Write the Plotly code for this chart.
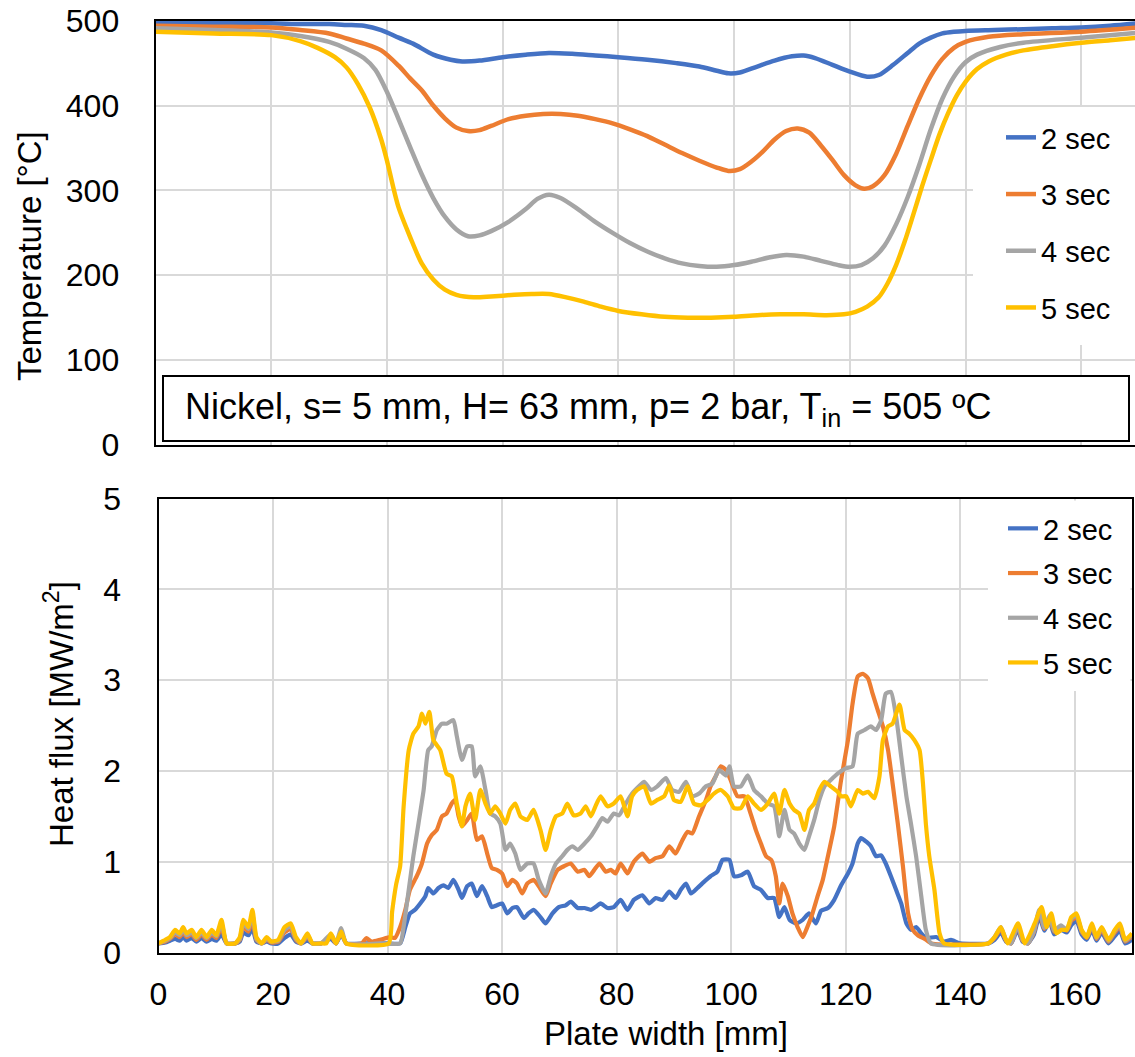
import plotly.graph_objects as go

W, H = 1135, 1057


def px(x):
    return x / W


def py(y):
    return 1 - y / H


series_names = ["2 sec", "3 sec", "4 sec", "5 sec"]
colors = ["#4472C4", "#ED7D31", "#A5A5A5", "#FFC000"]

# ---------------- Temperature [°C] vs plate width [mm] ----------------
temp_x_2s = [0, 10, 20, 25, 30, 33, 36, 39, 42, 44.5, 48, 51, 53, 56, 60, 64, 68, 72, 76, 80, 85, 90,
             94, 97, 99, 101, 104, 107, 110, 112, 114, 117, 120, 123, 125, 127.5, 130, 132, 134, 136,
             138, 140, 145, 150, 155, 160, 165, 170]
temp_y_2s = [497, 497, 497, 496, 496, 495, 494, 489, 480, 473, 460, 454, 452, 453, 457, 460, 462, 461,
             459, 457, 454, 450, 446, 441, 438, 439, 446, 453, 458, 459, 456, 448, 440, 434, 436, 448,
             462, 473, 480, 485, 487, 488, 489, 490, 491, 492, 494, 497]

temp_x_3s = [0, 10, 20, 25, 30, 33, 36, 39, 42, 44, 46, 48, 50, 52, 54, 56, 58, 61, 64, 67, 70, 73,
             76, 79, 82, 85, 88, 91, 94, 97, 99, 101, 103, 105, 107, 109, 111, 113, 115, 117, 119,
             121, 122.5, 124, 126, 128, 130, 132, 134, 136, 138, 140, 144, 150, 160, 170]
temp_y_3s = [494, 493, 492, 489, 485, 479, 473, 465, 447, 432, 418, 400, 385, 374, 370, 371, 376, 384,
             388, 390, 390, 388, 384, 379, 372, 364, 354, 344, 335, 327, 323, 325, 334, 346, 360, 370,
             373, 368, 353, 336, 318, 306, 302, 305, 318, 343, 376, 408, 435, 455, 468, 475, 481, 484,
             487, 492]

temp_x_4s = [0, 10, 20, 25, 30, 33, 36, 38, 40, 42, 44, 46, 48, 50, 52, 54, 56, 58, 61, 64, 66, 68,
             70, 73, 76, 79, 82, 85, 88, 91, 94, 97, 100, 103, 106, 109, 112, 115, 118, 120, 122, 124,
             126, 128, 130, 132, 134, 136, 138, 140, 142, 146, 150, 160, 170]
temp_y_4s = [491, 489, 486, 482, 475, 467, 456, 442, 416, 384, 351, 319, 291, 269, 254, 246, 247, 252,
             263, 278, 290, 295, 291, 278, 263, 250, 238, 228, 220, 214, 211, 210, 212, 216, 221, 224,
             222, 217, 212, 210, 212, 220, 235, 260, 292, 330, 372, 408, 434, 451, 460, 469, 474, 480,
             486]

temp_x_5s = [0, 10, 20, 25, 28, 31, 33, 35, 37, 39, 40, 41, 42, 44, 46, 48, 50, 52, 55, 58, 62, 65,
             68, 71, 74, 77, 80, 84, 88, 92, 96, 100, 104, 108, 112, 116, 119, 121, 123, 125, 126.5,
             128, 129.5, 131, 132.5, 134, 135.5, 137, 138.5, 140, 142, 144, 147, 150, 155, 160, 165,
             170]
temp_y_5s = [487, 485, 483, 476, 468, 457, 445, 425, 398, 360, 335, 306, 280, 245, 214, 195, 183, 177,
             174, 175, 177, 178, 178, 174, 169, 163, 158, 154, 151, 150, 150, 151, 153, 154, 154, 153,
             154, 157, 163, 174, 190, 212, 240, 272, 305, 336, 366, 391, 412, 428, 443, 452, 460, 465,
             470, 474, 477, 480]

# ---------------- Heat flux [MW/m2] vs plate width [mm] ----------------
flux_x_2s = [0, 1.2, 2, 2.9, 3.7, 4.3, 4.9, 5.8, 6.6, 7.5, 8.4, 9.3, 10.1, 11, 11.9, 13.4, 14.2, 14.8,
             15.7, 16.4, 17.1, 18, 18.9, 19.7, 20.9, 22, 23.1, 24, 24.9, 26, 26.9, 28.4, 30.1, 31, 31.9,
             32.8, 36, 40, 42.2,
             43.1, 43.9, 44.8, 45.7, 46.6, 47.1, 48, 48.9, 49.8, 50.6, 51.5, 52.4, 53, 53.9, 54.7, 55.6,
             56.5, 57.4, 58.2, 59.1, 60, 60.9, 61.8, 62.6, 63.8, 64.6, 65.5, 66.7, 67.6, 68.8, 69.9,
             71.1, 72, 73.2, 74.4, 75.5, 76.3, 77.2, 78.4, 79.5, 80.7, 81.9, 83, 84.5, 85.7, 86.8, 88,
             89.2, 90.3, 91.2, 92.1, 93, 94.1, 95.3, 96.4, 97.6, 98.5, 99.7, 100.5, 101.7, 102.9, 104,
             105.2, 106.4, 107.5, 108.4, 109.3, 110.2, 111.3, 112.5, 113.6, 114.8, 115.7, 116.9, 118,
             119.2, 120.4, 121.2, 122.1, 122.7, 123.6, 124.4, 125.3, 126.2, 127, 127.9, 128.8, 129.7,
             130.6, 131.4, 132.3, 133.2, 134, 135.8, 137.2, 138.4, 140, 144.9,
             146, 147.1, 148, 148.9, 150, 150.9, 151.8, 152.9, 153.8, 154.7, 155.6, 156.4, 157.6, 158.6,
             159.4, 160.3, 161.2, 162.1, 163, 163.8, 164.7, 165.9, 167, 167.9, 168.8, 170]
flux_y_2s = [0.10, 0.11, 0.13, 0.15, 0.13, 0.17, 0.13, 0.16, 0.12, 0.16, 0.12, 0.15, 0.13, 0.20, 0.10,
             0.10, 0.12, 0.22, 0.19, 0.27, 0.12, 0.10, 0.12, 0.10, 0.10, 0.16, 0.20, 0.12, 0.10, 0.13,
             0.10, 0.10, 0.15, 0.10, 0.20, 0.10, 0.10, 0.10, 0.10,
             0.28, 0.43, 0.47, 0.54, 0.62, 0.71, 0.65, 0.71, 0.74, 0.71, 0.80, 0.69, 0.60, 0.73, 0.76,
             0.62, 0.73, 0.62, 0.50, 0.52, 0.54, 0.43, 0.49, 0.50, 0.38, 0.43, 0.47, 0.39, 0.32, 0.43,
             0.50, 0.52, 0.56, 0.49, 0.49, 0.47, 0.50, 0.54, 0.49, 0.50, 0.58, 0.47, 0.58, 0.63, 0.54,
             0.60, 0.58, 0.67, 0.60, 0.69, 0.76, 0.65, 0.71, 0.78, 0.84, 0.89, 1.02, 1.02, 0.84, 0.85,
             0.89, 0.73, 0.69, 0.60, 0.60, 0.39, 0.50, 0.36, 0.32, 0.36, 0.43, 0.32, 0.46, 0.49, 0.58,
             0.74, 0.87, 0.98, 1.20, 1.26, 1.22, 1.17, 1.06, 1.07, 0.98, 0.84, 0.69, 0.54, 0.32, 0.25,
             0.28, 0.21, 0.16, 0.17, 0.12, 0.14, 0.10, 0.10,
             0.14, 0.22, 0.12, 0.10, 0.25, 0.12, 0.10, 0.20, 0.40, 0.24, 0.35, 0.20, 0.25, 0.22, 0.30,
             0.35, 0.20, 0.14, 0.25, 0.13, 0.22, 0.10, 0.18, 0.24, 0.10, 0.14]

flux_x_3s = [0, 1.2, 2, 2.9, 3.7, 4.3, 4.9, 5.8, 6.6, 7.5, 8.4, 9.3, 10.1, 11, 11.9, 13.4, 14.2, 14.8,
             15.7, 16.4, 17.1, 18, 18.9, 19.7, 20.9, 22, 23.1, 24, 24.9, 26, 26.9, 28.4, 30.1, 31, 31.9,
             32.8, 35.5, 36.3, 37.2, 38.7, 40.4, 41.3, 42.2,
             43.1, 43.9, 45.1, 46, 46.9, 47.7, 48.6, 49.5, 50.3, 51.2, 51.8, 52.4, 53, 53.9, 54.7, 55.6,
             56.5, 57.4, 58.2, 59.1, 60, 60.9, 61.8, 62.6, 63.5, 64.4, 65.5, 66.4, 67.6, 68.5, 69.7,
             70.8, 72, 73.2, 74.4, 75.2, 76.1, 77, 78.1, 79, 79.8, 80.7, 81.9, 83, 84.5, 85.7, 86.8, 88,
             89.2, 90.3, 91.5, 92.4, 93.2, 94.4, 95.6, 96.4, 97.3, 98.2, 99.1, 99.9, 101.1, 102.3,
             103.4, 104.3, 105.2, 106.1, 107, 107.8, 108.4, 109, 109.9, 110.7, 111.6, 112.5, 113.3,
             114.2, 115.1, 116, 116.9, 118, 119.2, 120.4, 121.2, 122.1, 123, 123.9, 124.7, 125.6, 126.5,
             127.4, 128.2, 129.1, 130, 130.9, 131.7, 132.6, 133.8, 135, 144.9,
             146, 147.1, 148, 148.9, 150, 150.9, 151.8, 152.9, 153.8, 154.7, 155.6, 156.4, 157.6, 158.6,
             159.4, 160.3, 161.2, 162.1, 163, 163.8, 164.7, 165.9, 167, 167.9, 168.8, 170]
flux_y_3s = [0.10, 0.12, 0.15, 0.20, 0.17, 0.22, 0.17, 0.20, 0.14, 0.20, 0.14, 0.20, 0.16, 0.28, 0.10,
             0.10, 0.14, 0.28, 0.23, 0.36, 0.14, 0.10, 0.14, 0.11, 0.12, 0.22, 0.26, 0.14, 0.10, 0.17,
             0.10, 0.10, 0.18, 0.10, 0.22, 0.10, 0.10, 0.16, 0.12, 0.14, 0.17, 0.16, 0.28,
             0.47, 0.69, 0.84, 0.98, 1.20, 1.29, 1.35, 1.50, 1.53, 1.64, 1.68, 1.50, 1.39, 1.46, 1.53,
             1.24, 1.28, 1.09, 0.93, 0.91, 0.87, 0.73, 0.80, 0.76, 0.65, 0.76, 0.80, 0.73, 0.62, 0.76,
             0.91, 0.95, 0.98, 0.89, 0.91, 0.84, 0.91, 0.98, 0.89, 0.91, 0.87, 0.98, 0.87, 1.00, 1.09,
             1.00, 1.04, 1.06, 1.17, 1.09, 1.24, 1.33, 1.31, 1.50, 1.68, 1.83, 1.94, 2.05, 2.01, 1.90,
             1.72, 1.72, 1.53, 1.35, 1.20, 1.06, 1.02, 0.84, 0.54, 0.76, 0.62, 0.43, 0.28, 0.17, 0.28,
             0.43, 0.62, 0.80, 1.06, 1.39, 1.90, 2.34, 2.74, 3.04, 3.07, 3.02, 2.85, 2.67, 2.49, 2.23,
             1.86, 1.42, 0.95, 0.43, 0.25, 0.19, 0.15, 0.10, 0.10,
             0.16, 0.26, 0.13, 0.10, 0.29, 0.13, 0.10, 0.23, 0.45, 0.26, 0.39, 0.23, 0.29, 0.24, 0.35,
             0.39, 0.23, 0.16, 0.29, 0.15, 0.25, 0.12, 0.22, 0.28, 0.12, 0.18]

flux_x_4s = [0, 1.2, 2, 2.9, 3.7, 4.3, 4.9, 5.8, 6.6, 7.5, 8.4, 9.3, 10.1, 11, 11.9, 13.4, 14.2, 14.8,
             15.7, 16.4, 17.1, 18, 18.9, 19.7, 20.9, 22, 23.1, 24, 24.9, 26, 26.9, 28.4, 30.1, 31, 31.9,
             32.8, 38.7, 42.2, 42.8,
             43.7, 44.5, 45.4, 46.3, 47.1, 47.7, 48.6, 49.5, 50.3, 51.5, 52.1, 53, 53.9, 54.7, 55.3,
             56.2, 57.1, 57.9, 58.8, 59.7, 60.6, 61.4, 62.3, 63.2, 64.4, 65.5, 66.4, 67.6, 68.5, 69.4,
             70.5, 71.4, 72.3, 73.2, 74.4, 75.5, 76.6, 77.5, 78.4, 79.5, 80.4, 81.6, 82.7, 83.9, 84.8,
             86, 87.1, 88.6, 89.7, 90.9, 92.1, 93.2, 94.4, 95.6, 96.7, 97.9, 99.1, 99.7, 100.5, 101.7,
             102.9, 104, 105.2, 106.4, 107.5, 108.4, 109.3, 110.2, 111, 111.9, 112.8, 113.6, 114.5,
             115.4, 116.3, 117.4, 118.6, 120.1, 121.2, 122.1, 123.3, 124.4, 125.3, 126.2, 127, 127.9,
             128.8, 129.7, 130.6, 131.4, 132.3, 133.2, 134, 134.9, 144.9,
             146, 147.1, 148, 148.9, 150, 150.9, 151.8, 152.9, 153.8, 154.7, 155.6, 156.4, 157.6, 158.6,
             159.4, 160.3, 161.2, 162.1, 163, 163.8, 164.7, 165.9, 167, 167.9, 168.8, 170]
flux_y_4s = [0.10, 0.13, 0.16, 0.22, 0.19, 0.25, 0.19, 0.22, 0.16, 0.22, 0.16, 0.22, 0.18, 0.32, 0.10,
             0.10, 0.15, 0.32, 0.26, 0.42, 0.15, 0.10, 0.15, 0.12, 0.13, 0.25, 0.29, 0.15, 0.10, 0.19,
             0.10, 0.10, 0.20, 0.10, 0.27, 0.10, 0.10, 0.10, 0.28,
             0.69, 1.06, 1.42, 1.79, 2.23, 2.27, 2.45, 2.52, 2.52, 2.56, 2.38, 2.12, 2.27, 2.27, 1.94,
             2.05, 1.79, 1.53, 1.50, 1.42, 1.13, 1.20, 1.09, 0.91, 0.98, 0.98, 0.80, 0.65, 0.84, 0.98,
             1.06, 1.13, 1.17, 1.13, 1.20, 1.28, 1.39, 1.48, 1.44, 1.53, 1.51, 1.64, 1.75, 1.83, 1.88,
             1.79, 1.83, 1.92, 1.79, 1.77, 1.88, 1.72, 1.75, 1.83, 1.86, 2.01, 1.95, 2.05, 1.83, 1.83,
             1.95, 1.79, 1.72, 1.64, 1.61, 1.28, 1.57, 1.35, 1.31, 1.20, 1.13, 1.28, 1.46, 1.68, 1.83,
             1.90, 1.97, 2.03, 2.05, 2.41, 2.45, 2.49, 2.45, 2.56, 2.85, 2.87, 2.60, 2.16, 1.72, 1.42,
             1.06, 0.62, 0.25, 0.10, 0.10,
             0.17, 0.28, 0.14, 0.10, 0.30, 0.14, 0.10, 0.24, 0.47, 0.27, 0.41, 0.24, 0.30, 0.25, 0.37,
             0.41, 0.24, 0.17, 0.30, 0.16, 0.27, 0.13, 0.24, 0.30, 0.13, 0.20]

flux_x_5s = [0, 1.2, 2, 2.9, 3.7, 4.3, 4.9, 5.8, 6.6, 7.5, 8.4, 9.3, 10.1, 11, 11.9, 13.4, 14.2, 14.8,
             15.7, 16.4, 17.1, 18, 18.9, 19.7, 20.9, 22, 23.1, 24, 24.9, 26, 26.9, 28.4, 29.3, 30.1,
             31, 31.9, 32.8, 40.2,
             40.8, 41.5, 42.2, 42.8, 43.7, 44.5, 45.4, 46, 46.6, 47.3, 48, 49.2, 50.3, 51.2, 52.1, 53,
             53.6, 54.4, 55.3, 56.2, 57.1, 57.9, 58.8, 59.7, 60.6, 61.4, 62.3, 63.2, 64.4, 65.5, 66.7,
             67.6, 68.5, 69.4, 70.5, 71.4, 72.5, 73.7, 74.6, 75.5, 76.3, 77.2, 78.4, 79.5, 80.7, 81.9,
             82.7, 83.6, 84.8, 86, 87.1, 88.3, 89.2, 90, 91.2, 92.4, 93.5, 94.7, 95.9, 97, 98.2, 99.4,
             100.5, 101.7, 102.9, 104, 105.2, 106.4, 107.5, 108.4, 109.3, 110.2, 111, 111.9, 112.8,
             113.6, 114.5, 115.4, 116.3, 117.4, 118.6, 119.2, 120.1, 120.9, 122.1, 123, 123.9, 125,
             125.9, 126.5, 127.4, 128.2, 129.4, 130.3, 131.1, 132, 132.9, 133.5, 134, 134.6, 135.5,
             136.4, 137.2, 144.9,
             146, 147.1, 148.3, 150.1, 151.3, 153, 154.2, 155.1, 155.9, 156.8, 157.7, 158.6, 159.4,
             160.3, 161.2, 162.1, 163, 163.8, 164.7, 165.9, 167, 167.9, 168.8, 170]
flux_y_5s = [0.10, 0.14, 0.17, 0.25, 0.21, 0.28, 0.21, 0.25, 0.17, 0.25, 0.17, 0.25, 0.19, 0.36, 0.10,
             0.10, 0.17, 0.36, 0.28, 0.47, 0.17, 0.10, 0.17, 0.12, 0.14, 0.28, 0.32, 0.17, 0.10, 0.21,
             0.10, 0.10, 0.10, 0.21, 0.10, 0.23, 0.10, 0.10,
             0.45, 0.75, 0.95, 1.60, 2.23, 2.41, 2.49, 2.63, 2.52, 2.65, 2.34, 2.23, 1.97, 1.94, 1.64,
             1.39, 1.61, 1.75, 1.46, 1.79, 1.64, 1.53, 1.61, 1.53, 1.42, 1.57, 1.64, 1.50, 1.46, 1.57,
             1.35, 1.13, 1.35, 1.50, 1.53, 1.64, 1.51, 1.53, 1.61, 1.50, 1.61, 1.72, 1.61, 1.64, 1.72,
             1.50, 1.72, 1.79, 1.83, 1.64, 1.68, 1.72, 1.84, 1.68, 1.66, 1.83, 1.64, 1.62, 1.68, 1.75,
             1.79, 1.72, 1.59, 1.59, 1.72, 1.64, 1.57, 1.64, 1.75, 1.53, 1.79, 1.64, 1.57, 1.53, 1.35,
             1.57, 1.64, 1.79, 1.88, 1.83, 1.77, 1.72, 1.72, 1.61, 1.79, 1.75, 1.77, 1.70, 1.94, 2.34,
             2.49, 2.52, 2.73, 2.45, 2.41, 2.34, 2.23, 1.86, 1.42, 1.06, 0.69, 0.21, 0.10, 0.10,
             0.17, 0.28, 0.10, 0.32, 0.10, 0.32, 0.50, 0.28, 0.43, 0.21, 0.25, 0.25, 0.39, 0.43, 0.25,
             0.17, 0.32, 0.17, 0.28, 0.14, 0.25, 0.32, 0.14, 0.21]

temp_x = [temp_x_2s, temp_x_3s, temp_x_4s, temp_x_5s]
temp_y = [temp_y_2s, temp_y_3s, temp_y_4s, temp_y_5s]
flux_x = [flux_x_2s, flux_x_3s, flux_x_4s, flux_x_5s]
flux_y = [flux_y_2s, flux_y_3s, flux_y_4s, flux_y_5s]

x_ticks = [0, 20, 40, 60, 80, 100, 120, 140, 160]
temp_ticks = [0, 100, 200, 300, 400, 500]
flux_ticks = [0, 1, 2, 3, 4, 5]

FONT = "Liberation Sans, Arial, sans-serif"
GRID = "#D9D9D9"

fig = go.Figure()

for i, name in enumerate(series_names):
    fig.add_trace(go.Scatter(
        x=temp_x[i], y=temp_y[i], name=name, mode="lines",
        line=dict(color=colors[i], width=4.5, shape="spline", smoothing=0.8),
        xaxis="x", yaxis="y", legend="legend", legendgroup="t" + name,
    ))

for i, name in enumerate(series_names):
    fig.add_trace(go.Scatter(
        x=flux_x[i], y=flux_y[i], name=name, mode="lines",
        line=dict(color=colors[i], width=4.2, shape="spline", smoothing=0.5),
        xaxis="x2", yaxis="y2", legend="legend2", legendgroup="h" + name,
    ))

axis_common = dict(
    showgrid=True, gridcolor=GRID, gridwidth=1.5, zeroline=False,
    showline=True, linecolor="black", linewidth=2, ticks="", automargin=False,
    tickfont=dict(family=FONT, size=32, color="black"),
)

fig.update_layout(
    width=W, height=H,
    margin=dict(l=0, r=0, t=0, b=0, autoexpand=False),
    paper_bgcolor="white", plot_bgcolor="white",
    font=dict(family=FONT, color="black"),
    xaxis=dict(axis_common, domain=[px(155.6), 1.0], range=[0, 169.3], tickvals=x_ticks,
               showticklabels=False, mirror=True, anchor="y"),
    yaxis=dict(axis_common, domain=[py(445), py(20.7)], range=[0, 500], tickvals=temp_ticks,
               mirror=False, anchor="x", ticklabelstandoff=28),
    xaxis2=dict(axis_common, domain=[px(158.5), px(1132)], range=[0, 170], tickvals=x_ticks,
                mirror=True, anchor="y2", ticklabelstandoff=12),
    yaxis2=dict(axis_common, domain=[py(952.5), py(498.5)], range=[0, 5], tickvals=flux_ticks,
                mirror=True, anchor="x2", ticklabelstandoff=29),
    legend=dict(x=px(1001), y=py(112), xanchor="left", yanchor="top",
                bgcolor="rgba(255,255,255,0)", borderwidth=0, tracegroupgap=16,
                font=dict(family=FONT, size=29, color="black")),
    legend2=dict(x=px(1003), y=py(503), xanchor="left", yanchor="top",
                 bgcolor="rgba(255,255,255,0)", borderwidth=0, tracegroupgap=4,
                 font=dict(family=FONT, size=29, color="black")),
    shapes=[
        # white backgrounds behind legends (hide gridlines like the original)
        dict(type="rect", xref="paper", yref="paper", x0=px(973), x1=px(1135), y0=py(345), y1=py(107),
             line=dict(width=0), fillcolor="white", layer="above"),
        dict(type="rect", xref="paper", yref="paper", x0=px(988), x1=px(1130.5), y0=py(691), y1=py(500.5),
             line=dict(width=0), fillcolor="white", layer="above"),
        # annotation box in the temperature panel
        dict(type="rect", xref="paper", yref="paper", x0=px(163), x1=px(1129), y0=py(441), y1=py(376),
             line=dict(color="black", width=2), fillcolor="white", layer="above"),
    ],
    annotations=[
        dict(text="Nickel, s= 5 mm, H= 63 mm, p= 2 bar, T<sub>in</sub> = 505 ºC",
             xref="paper", yref="paper", x=px(183), y=py(409), xanchor="left", yanchor="middle",
             showarrow=False, font=dict(family=FONT, size=36, color="black")),
        dict(text="Temperature [°C]", xref="paper", yref="paper", x=px(29), y=py(256),
             xanchor="center", yanchor="middle", textangle=-90, showarrow=False,
             font=dict(family=FONT, size=33, color="black")),
        dict(text="Heat flux [MW/m<sup>2</sup>]", xref="paper", yref="paper", x=px(59), y=py(714),
             xanchor="center", yanchor="middle", textangle=-90, showarrow=False,
             font=dict(family=FONT, size=33, color="black")),
        dict(text="Plate width [mm]", xref="paper", yref="paper", x=px(666), y=py(1033),
             xanchor="center", yanchor="middle", showarrow=False,
             font=dict(family=FONT, size=33, color="black")),
    ],
)

fig.write_html("out.html")
